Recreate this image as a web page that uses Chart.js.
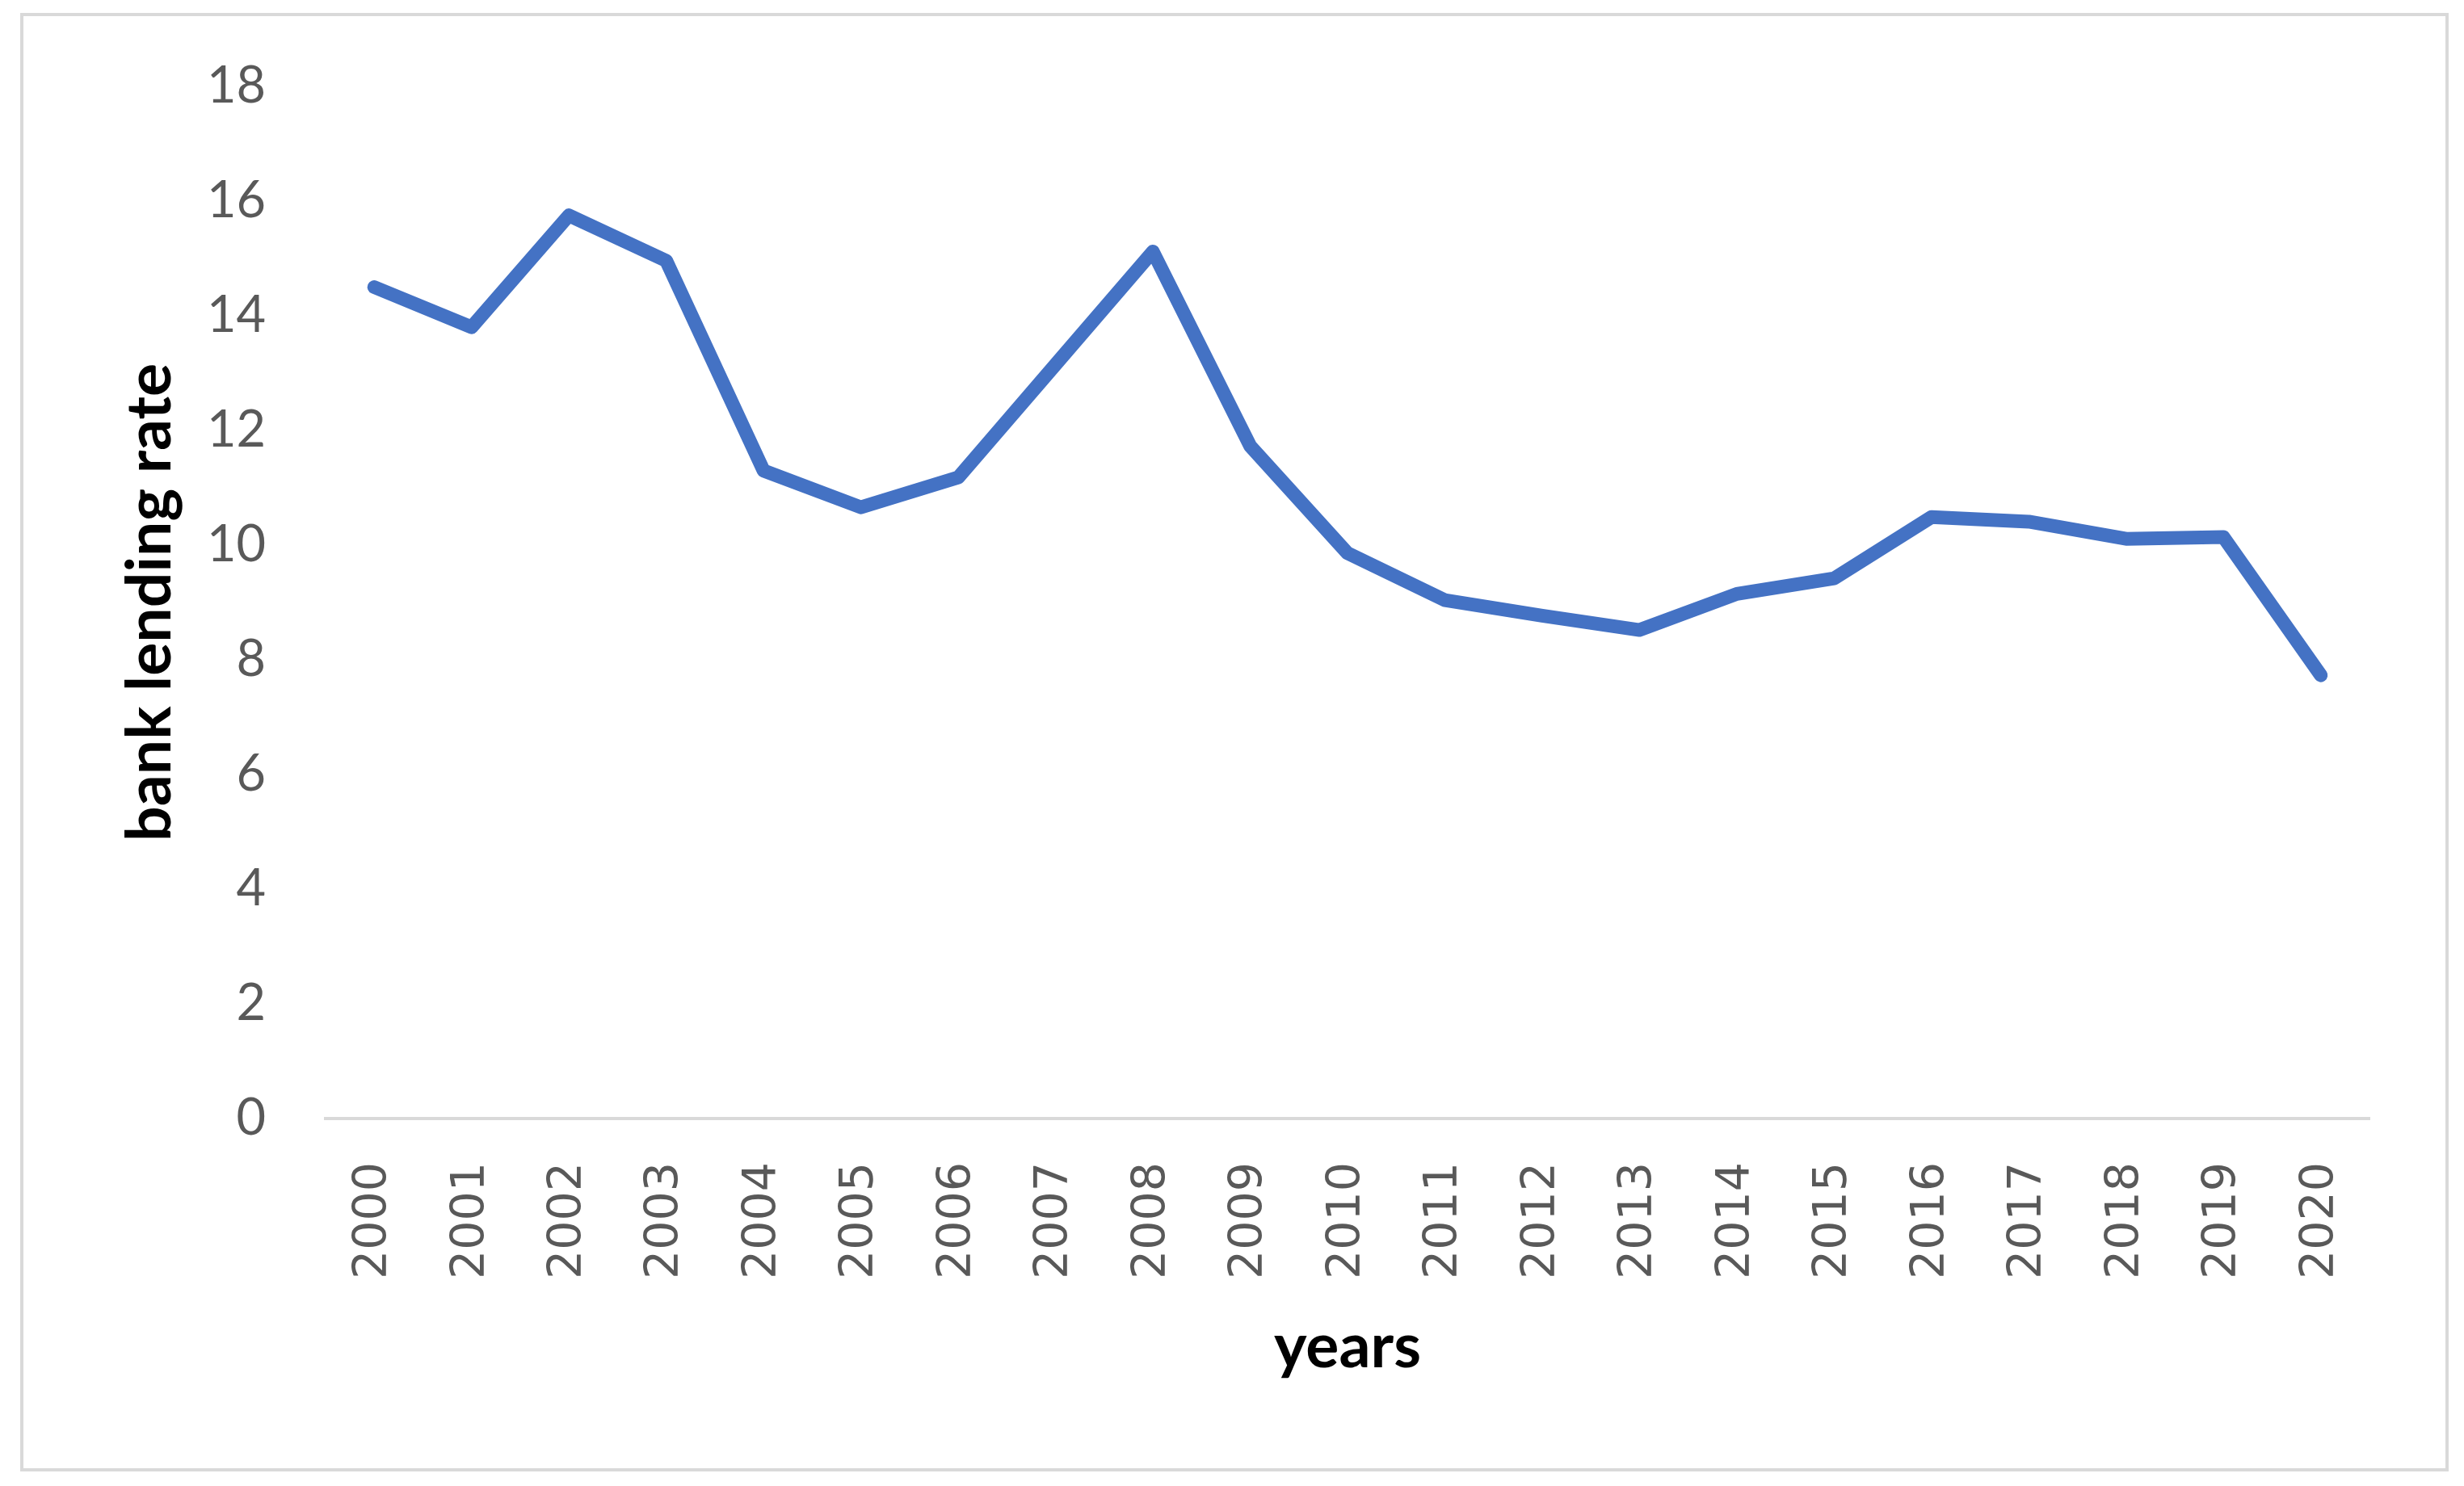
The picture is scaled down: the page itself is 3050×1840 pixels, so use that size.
<!DOCTYPE html>
<html>
<head>
<meta charset="utf-8">
<script src="https://cdn.jsdelivr.net/npm/chart.js@4"></script>
<style>
  html, body { margin: 0; padding: 0; background: #ffffff; }
  #wrap { position: relative; width: 3050px; height: 1840px; }
  #frame {
    position: absolute; left: 25px; top: 16px; width: 2998px; height: 1798px;
    border: 4px solid #d9d9d9;
  }
  #chart { position: absolute; left: 0; top: 0; }
</style>
</head>
<body>
<div id="wrap">
  <div id="frame"></div>
  <canvas id="chart" width="3050" height="1840"></canvas>
</div>
<script>
// Data
const years = ["2000", "2001", "2002", "2003", "2004", "2005", "2006", "2007", "2008", "2009", "2010",
               "2011", "2012", "2013", "2014", "2015", "2016", "2017", "2018", "2019", "2020"];
const lendingRate = [14.5, 13.8, 15.75, 14.96, 11.3, 10.66, 11.18, 13.15, 15.12, 11.73, 9.86,
                     9.04, 8.77, 8.52, 9.15, 9.42, 10.49, 10.41, 10.11, 10.14, 7.73];
const yTicks = [0, 2, 4, 6, 8, 10, 12, 14, 16, 18];

const lineColor = "#4472C4";
const tickColor = "#595959";

let ctx = document.getElementById("chart").getContext("2d");

new Chart(ctx, {
    type: "line",
    data: {
        labels: years,
        datasets: [{
            label: "bank lending rate",
            data: lendingRate,
            borderColor: lineColor,
            backgroundColor: lineColor,
            borderWidth: 17,
            pointRadius: 0,
            tension: 0,
            borderCapStyle: "round",
            borderJoinStyle: "round",
            fill: false
        }]
    },
    options: {
        responsive: false,
        animation: false,
        layout: { padding: { top: 107, right: 117, bottom: 0, left: 0 } },
        plugins: {
            legend: { display: false },
            tooltip: { enabled: false }
        },
        scales: {
            x: {
                offset: true,
                grid: { display: false },
                border: { display: true, color: "#d9d9d9", width: 4 },
                ticks: {
                    color: tickColor,
                    font: { family: "DejaVu Sans", size: 57 },
                    minRotation: 90,
                    maxRotation: 90,
                    padding: 46,
                    autoSkip: false
                },
                title: {
                    display: true,
                    text: "years",
                    color: "#000000",
                    font: { family: "Lato", size: 77, weight: "bold" },
                    padding: { top: 0, bottom: 126 }
                },
                afterFit: (scale) => { scale.height = 455; }
            },
            y: {
                min: 0,
                max: 18,
                afterBuildTicks: (scale) => { scale.ticks = yTicks.map(v => ({ value: v })); },
                grid: { display: false },
                border: { display: false },
                ticks: {
                    color: tickColor,
                    font: { family: "Lato", size: 63 },
                    padding: 66
                },
                title: {
                    display: true,
                    text: "bank lending rate",
                    color: "#000000",
                    font: { family: "Lato", size: 77, weight: "bold" },
                    padding: { top: 140, bottom: 0 }
                },
                afterFit: (scale) => { scale.width = 403; }
            }
        }
    }
});
</script>
</body>
</html>
